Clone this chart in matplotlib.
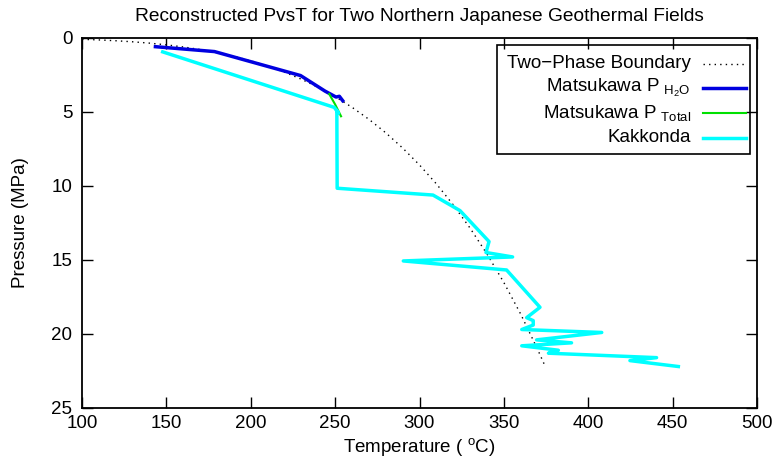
import numpy as np
import matplotlib.pyplot as plt
from matplotlib.patches import Rectangle

plt.rcParams['font.family'] = ['Liberation Sans', 'DejaVu Sans']
plt.rcParams['mathtext.fontset'] = 'custom'
plt.rcParams['mathtext.rm'] = 'Liberation Sans'
plt.rcParams['mathtext.it'] = 'Liberation Sans'

# liquid-vapour saturation curve of water
sat_T = [100, 110, 120, 130, 140, 150, 160, 170, 180, 190, 200, 210, 220, 230,
         240, 250, 260, 270, 280, 290, 300, 310, 320, 330, 340, 350, 360, 370, 374]
sat_P = [0.101, 0.143, 0.199, 0.270, 0.361, 0.476, 0.618, 0.792, 1.003, 1.255,
         1.555, 1.908, 2.320, 2.797, 3.347, 3.976, 4.692, 5.503, 6.417, 7.442,
         8.588, 9.865, 11.284, 12.858, 14.601, 16.529, 18.666, 21.044, 22.064]

# Matsukawa, water pressure
mat_h2o_T = [143.5, 178.5, 229.5, 244.0, 250.5, 252.5, 254.5]
mat_h2o_P = [0.60, 0.93, 2.55, 3.60, 4.00, 3.95, 4.25]

# Matsukawa, total pressure
mat_tot_T = [246.5, 250.0, 253.5]
mat_tot_P = [3.80, 4.50, 5.30]

# Kakkonda
kak_T = [147.8, 249.5, 252.0, 251.0, 251.2, 308.0, 324.0, 341.2, 339.4, 355.2,
         290.4, 351.6, 371.4, 363.5, 367.4, 367.4, 360.6, 408.0, 369.4, 390.1,
         360.6, 382.3, 376.4, 440.5, 424.7, 453.4]
kak_P = [0.95, 4.70, 5.10, 4.90, 10.16, 10.62, 11.67, 13.76, 14.50, 14.80,
         15.07, 15.68, 18.20, 18.90, 19.10, 19.40, 19.70, 19.90, 20.40, 20.60,
         20.80, 21.10, 21.30, 21.60, 21.80, 22.20]

fig = plt.figure(figsize=(7.74, 4.61), dpi=100)
ax = fig.add_axes([0.106, 0.115, 0.872, 0.803])

ax.plot(sat_T, sat_P, color='black', lw=1.0, ls=(0, (1, 3)))
ax.plot(mat_h2o_T, mat_h2o_P, color='#0000e0', lw=2.5)
ax.plot(mat_tot_T, mat_tot_P, color='#00e000', lw=1.5)
ax.plot(kak_T, kak_P, color='#00ffff', lw=2.5)

ax.set_xlim(100, 500)
ax.set_ylim(25, 0)
ax.set_xticks(np.arange(100, 501, 50))
ax.set_yticks(np.arange(0, 26, 5))
ax.tick_params(direction='in', length=8, width=1, top=True, right=True,
               labelsize=13.5)
ax.tick_params(axis='y', pad=7)
ax.tick_params(axis='x', pad=5)
for s in ax.spines.values():
    s.set_linewidth(1.3)

ax.set_title('Reconstructed PvsT for Two Northern Japanese Geothermal Fields',
             fontsize=13.8, pad=12)
ax.set_xlabel(r'Temperature ( $^{\mathrm{o}}$C)', fontsize=13.5, labelpad=3)
ax.set_ylabel('Pressure (MPa)', fontsize=13.5, labelpad=16)

# key box, gnuplot style: right-aligned text with sample line after it
ax.add_patch(Rectangle((0.615, 0.686), 0.375, 0.295, transform=ax.transAxes,
                       fill=False, lw=1.2, ec='black', zorder=5))
labels = ['Two\u2212Phase Boundary', r'Matsukawa P $_{\mathrm{H_2O}}$',
          r'Matsukawa P $_{\mathrm{Total}}$', 'Kakkonda']
styles = [dict(color='black', lw=1.0, ls=(0, (1, 3))),
          dict(color='#0000e0', lw=2.5),
          dict(color='#00e000', lw=1.5),
          dict(color='#00ffff', lw=2.5)]
rows = [0.93, 0.865, 0.797, 0.73]
for lab, st, yy in zip(labels, styles, rows):
    ax.text(0.902, yy, lab, transform=ax.transAxes, ha='right', va='center',
            fontsize=13.5, zorder=6)
    ax.plot([0.92, 0.984], [yy, yy], transform=ax.transAxes, zorder=6, **st)

fig.savefig('out.png', dpi=100)
